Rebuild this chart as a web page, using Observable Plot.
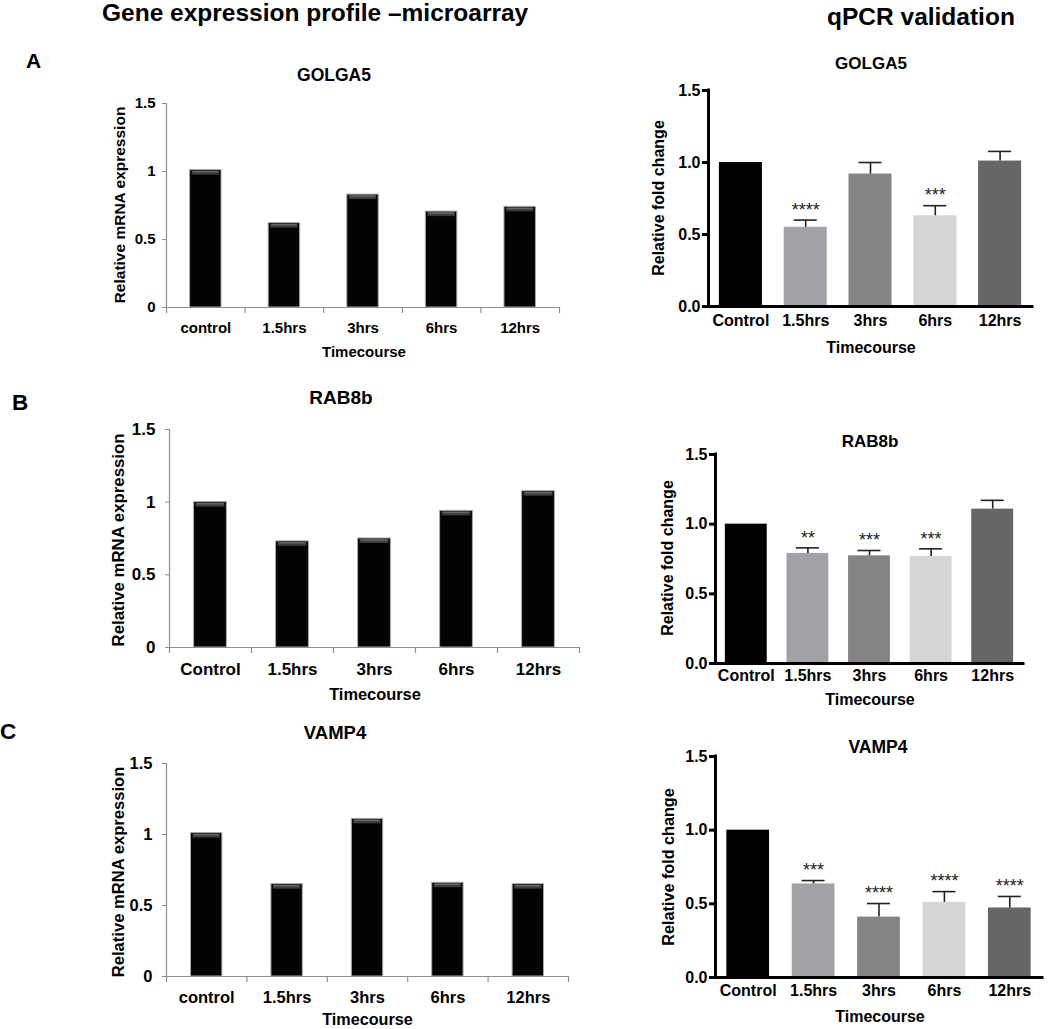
<!DOCTYPE html>
<html><head><meta charset="utf-8">
<script src="https://cdn.jsdelivr.net/npm/d3@7"></script>
<script src="https://cdn.jsdelivr.net/npm/@observablehq/plot@0.6"></script>
<style>
html,body{margin:0;padding:0;background:#fff;overflow:hidden}
#fig{position:relative;width:1050px;height:1029px;background:#fff;overflow:hidden}
</style></head>
<body><div id="fig"></div>
<script>
// ---------- data ----------
const timepointsMicroA = ["control", "1.5hrs", "3hrs", "6hrs", "12hrs"];
const timepointsMicroB = ["Control", "1.5hrs", "3hrs", "6hrs", "12hrs"];
const timepointsMicroC = ["control", "1.5hrs", "3hrs", "6hrs", "12hrs"];
const timepointsQPCR = ["Control", "1.5hrs", "3hrs", "6hrs", "12hrs"];

const golga5Micro = [1.01, 0.62, 0.83, 0.705, 0.74];
const rab8bMicro = [1.0, 0.73, 0.75, 0.94, 1.075];
const vamp4Micro = [1.01, 0.65, 1.11, 0.66, 0.65];

const golga5Mean = [1.0, 0.55, 0.92, 0.63, 1.01];
const golga5Sem = [0, 0.05, 0.08, 0.07, 0.067];
const golga5Stars = ["", "****", "", "***", ""];

const rab8bMean = [1.0, 0.79, 0.773, 0.768, 1.108];
const rab8bSem = [0, 0.04, 0.038, 0.055, 0.063];
const rab8bStars = ["", "**", "***", "***", ""];

const vamp4Mean = [1.0, 0.635, 0.41, 0.51, 0.472];
const vamp4Sem = [0, 0.023, 0.092, 0.073, 0.078];
const vamp4Stars = ["", "***", "****", "****", "****"];

const microTicks = [0, 0.5, 1, 1.5];
const qpcrTicks = [0, 0.5, 1, 1.5];
const qpcrColors = ["#000000", "#a2a2a6", "#848484", "#d5d5d5", "#666666"];

// ---------- layout ----------
const FONT = '"Liberation Sans", Arial, Helvetica, sans-serif';
const fig = document.getElementById("fig");

function place(svg, left, top) {
  svg.style.position = "absolute";
  svg.style.left = left + "px";
  svg.style.top = top + "px";
  fig.appendChild(svg);
}

function microPanel(cats, vals, L) {
  const ml = 60, mr = 8, mt = 8, mb = 34;
  const n = cats.length;
  const step = (L.x1 - L.x0) / n;
  const data = cats.map((c, i) => ({cat: c, val: vals[i]}));
  const gray = "#8f8f8f";
  const svg = Plot.plot({
    width: L.x1 - L.x0 + ml + mr,
    height: L.yZero - L.yTop + mt + mb,
    marginLeft: ml, marginRight: mr, marginTop: mt, marginBottom: mb,
    style: {fontFamily: FONT, fontSize: L.fs + "px", fontWeight: "bold", background: "transparent", color: "#000", overflow: "visible"},
    x: {type: "band", domain: cats, paddingInner: L.pad, paddingOuter: L.pad / 2, round: false, axis: null},
    y: {domain: [0, 1.5], axis: null},
    marks: [
      Plot.barY(data, {x: "cat", y: "val", fill: "#030303", stroke: "#a8a8a8", strokeWidth: 1}),
      Plot.tickY(data, {x: "cat", y: "val", stroke: "#3c3c3c", strokeWidth: 4, dy: 2.5, insetLeft: 2, insetRight: 2}),
      Plot.tickY(data, {x: "cat", y: "val", stroke: "#666", strokeWidth: 1.5, dy: 1.5, insetLeft: 3, insetRight: 3}),
      Plot.ruleY([0], {stroke: gray, strokeWidth: 1.2}),
      Plot.ruleX([cats[0]], {x: d => d, y1: 0, y2: 1.5, dx: -step / 2, stroke: gray, strokeWidth: 1.2}),
      Plot.ruleX(cats, {x: d => d, y1: 0, y2: 0, insetBottom: -6, dx: -step / 2, stroke: gray, strokeWidth: 1.2}),
      Plot.ruleX([cats[n - 1]], {x: d => d, y1: 0, y2: 0, insetBottom: -6, dx: step / 2, stroke: gray, strokeWidth: 1.2}),
      Plot.axisX({tickSize: 0, tickPadding: 15, label: null}),
      Plot.axisY({ticks: microTicks, tickFormat: d => String(d), tickSize: 4, tickPadding: L.tp, stroke: gray, fill: "#000", label: null})
    ]
  });
  place(svg, L.x0 - ml, L.yTop - mt);
}

function qpcrPanel(cats, means, sems, stars, L) {
  const ml = 60, mr = 8, mt = 8, mb = 34;
  const n = cats.length;
  const step = (L.x1 - L.x0) / n;
  const data = cats.map((c, i) => ({cat: c, mean: means[i], top: means[i] + sems[i], sem: sems[i], star: stars[i]}));
  const errs = data.filter(d => d.sem > 0);
  const capInset = (step * (1 - L.pad) - 23) / 2;
  const svg = Plot.plot({
    width: L.x1 - L.x0 + ml + mr,
    height: L.yZero - L.yTop + mt + mb,
    marginLeft: ml, marginRight: mr, marginTop: mt, marginBottom: mb,
    style: {fontFamily: FONT, fontSize: L.fs + "px", fontWeight: "bold", background: "transparent", color: "#000", overflow: "visible"},
    x: {type: "band", domain: cats, paddingInner: L.pad, paddingOuter: L.pad / 2, round: false, axis: null},
    y: {domain: [0, 1.5], axis: null},
    color: {type: "ordinal", domain: cats, range: qpcrColors},
    marks: [
      Plot.barY(data, {x: "cat", y: "mean", fill: "cat"}),
      Plot.ruleX(errs, {x: "cat", y1: "mean", y2: "top", stroke: "#222", strokeWidth: 1.6}),
      Plot.tickY(errs, {x: "cat", y: "top", stroke: "#222", strokeWidth: 1.6, insetLeft: capInset, insetRight: capInset}),
      Plot.text(data.filter(d => d.star), {x: "cat", y: "top", text: "star", dy: -10, fontSize: 18, fontWeight: "normal", fill: "#222"}),
      Plot.ruleY([0], {stroke: "#000", strokeWidth: 3, strokeLinecap: "square"}),
      Plot.ruleX([cats[0]], {x: d => d, y1: 0, y2: 1.5, dx: -step / 2, stroke: "#000", strokeWidth: 3, strokeLinecap: "square"}),
      Plot.axisX({tickSize: 0, tickPadding: L.xtp, label: null}),
      Plot.axisY({ticks: qpcrTicks, tickFormat: d3.format(".1f"), tickSize: 6, tickPadding: 2, stroke: "#000", strokeWidth: 3, fill: "#000", label: null})
    ]
  });
  place(svg, L.x0 - ml, L.yTop - mt);
}

microPanel(timepointsMicroA, golga5Micro, {x0: 166, x1: 559, yTop: 103, yZero: 307, pad: 0.6, fs: 15, tp: 7});
microPanel(timepointsMicroB, rab8bMicro, {x0: 169, x1: 579, yTop: 429, yZero: 647, pad: 0.6, fs: 17, tp: 10});
microPanel(timepointsMicroC, vamp4Micro, {x0: 166, x1: 568, yTop: 763, yZero: 976, pad: 0.61, fs: 16.5, tp: 10});

qpcrPanel(timepointsQPCR, golga5Mean, golga5Sem, golga5Stars, {x0: 708, x1: 1032, yTop: 90, yZero: 306, pad: 0.336, fs: 16, xtp: 8});
qpcrPanel(timepointsQPCR, rab8bMean, rab8bSem, rab8bStars, {x0: 715, x1: 1023, yTop: 454, yZero: 663, pad: 0.32, fs: 16, xtp: 6});
qpcrPanel(timepointsQPCR, vamp4Mean, vamp4Sem, vamp4Stars, {x0: 715, x1: 1042, yTop: 756, yZero: 977, pad: 0.347, fs: 16, xtp: 7});

// ---------- text overlay ----------
const texts = [
  {t: "Gene expression profile \u2013microarray", x: 102, y: 21, fs: 24.5, a: "start"},
  {t: "qPCR validation", x: 827, y: 25, fs: 24.5, a: "start"},
  {t: "A", x: 26, y: 68, fs: 21, a: "start"},
  {t: "B", x: 12, y: 410, fs: 22.5, a: "start"},
  {t: "C", x: 0, y: 739, fs: 22.5, a: "start"},
  {t: "GOLGA5", x: 334, y: 81, fs: 17.5},
  {t: "GOLGA5", x: 871, y: 69, fs: 17},
  {t: "RAB8b", x: 341, y: 404, fs: 19},
  {t: "RAB8b", x: 870, y: 447, fs: 17},
  {t: "VAMP4", x: 335, y: 739, fs: 18.5},
  {t: "VAMP4", x: 878, y: 753, fs: 17.5},
  {t: "Timecourse", x: 364, y: 357, fs: 15},
  {t: "Timecourse", x: 871, y: 353, fs: 16},
  {t: "Timecourse", x: 375, y: 700, fs: 16.4},
  {t: "Timecourse", x: 870, y: 705, fs: 16},
  {t: "Timecourse", x: 367.5, y: 1025, fs: 16.2},
  {t: "Timecourse", x: 880, y: 1022, fs: 16},
  {t: "Relative mRNA expression", x: 125, y: 205, fs: 15.5, r: true},
  {t: "Relative fold change", x: 664, y: 198, fs: 16, r: true},
  {t: "Relative mRNA expression", x: 124, y: 540, fs: 16.8, r: true},
  {t: "Relative fold change", x: 673, y: 558, fs: 16, r: true},
  {t: "Relative mRNA expression", x: 124, y: 872, fs: 16.6, r: true},
  {t: "Relative fold change", x: 674, y: 867, fs: 16.2, r: true}
];
const overlay = d3.create("svg")
  .attr("width", 1050).attr("height", 1029)
  .style("position", "absolute").style("left", "0px").style("top", "0px")
  .style("pointer-events", "none")
  .attr("font-family", FONT).attr("font-weight", "bold").attr("fill", "#000");
overlay.selectAll("text").data(texts).join("text")
  .attr("transform", d => d.r ? `translate(${d.x},${d.y}) rotate(-90)` : `translate(${d.x},${d.y})`)
  .attr("text-anchor", d => d.a || "middle")
  .attr("font-size", d => d.fs)
  .text(d => d.t);
fig.appendChild(overlay.node());
</script>
</body></html>
